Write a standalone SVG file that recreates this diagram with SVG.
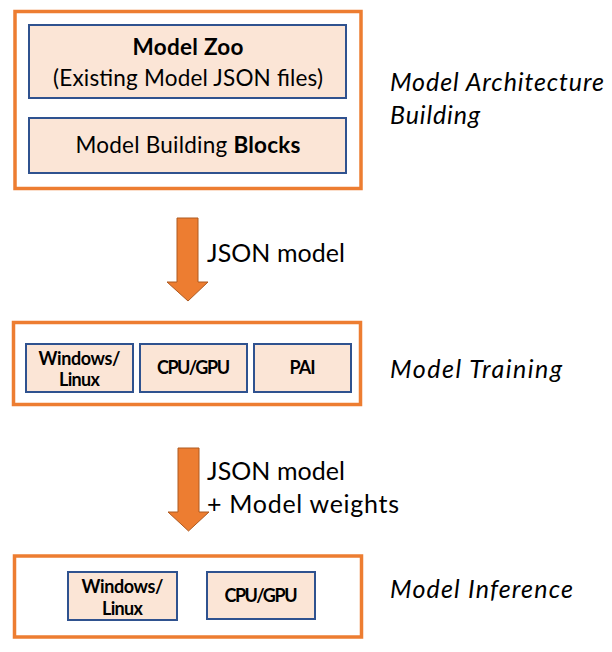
<svg xmlns="http://www.w3.org/2000/svg" width="612" height="652" viewBox="0 0 612 652">
<style>
.outer{fill:#FFFFFF;stroke:#ED7D31;stroke-width:3.5}
.inner{fill:#FBE5D6;stroke:#2F528F;stroke-width:2}
.arrow{fill:#ED7D31;stroke:#AE5A21;stroke-width:1}
text{font-family:Lato,"Open Sans","Liberation Sans",sans-serif;fill:#000}
.t20{font-size:22.5px;text-anchor:middle}
.b15{font-size:18px;font-weight:bold;text-anchor:middle}
.lab{font-size:25px}
.side{font-size:25px;font-style:italic}
</style>
<rect width="612" height="652" fill="#FFFFFF"/>
<g id="stage-build">
<rect class="outer" x="15" y="11.5" width="346" height="177"/>
<g id="model-zoo">
<rect class="inner" x="29" y="25" width="317" height="73"/>
<text class="t20" x="188" y="55" font-weight="bold" textLength="111">Model Zoo</text>
<text class="t20" x="188" y="86" textLength="270">(Existing Model JSON files)</text>
</g>
<g id="building-blocks">
<rect class="inner" x="29" y="118" width="317" height="55"/>
<text class="t20" x="188" y="153" textLength="225">Model Building <tspan font-weight="bold">Blocks</tspan></text>
</g>
</g>
<g id="stage-train">
<rect class="outer" x="13.5" y="322.5" width="347" height="82"/>
<g id="train-os">
<rect class="inner" x="26" y="344" width="107" height="48"/>
<text class="b15" x="79.5" y="365" textLength="82">Windows/</text>
<text class="b15" x="79.5" y="386" textLength="41">Linux</text>
</g>
<g id="train-hw">
<rect class="inner" x="140" y="344" width="107" height="48"/>
<text class="b15" x="193.5" y="374" textLength="73">CPU/GPU</text>
</g>
<g id="train-pai">
<rect class="inner" x="254" y="344" width="97" height="48"/>
<text class="b15" x="302.5" y="374" textLength="26">PAI</text>
</g>
</g>
<g id="stage-infer">
<rect class="outer" x="14.5" y="556" width="347" height="81"/>
<g id="infer-os">
<rect class="inner" x="68" y="572" width="109" height="48"/>
<text class="b15" x="122.5" y="593" textLength="82">Windows/</text>
<text class="b15" x="122.5" y="615" textLength="41">Linux</text>
</g>
<g id="infer-hw">
<rect class="inner" x="207" y="572" width="108" height="47"/>
<text class="b15" x="261" y="602" textLength="73">CPU/GPU</text>
</g>
</g>
<g id="connectors">
<path class="arrow" d="M177,218 H198 V282 H208 L188,301 L167,282 H177 Z"/>
<path class="arrow" d="M178,448 H199 V512 H209 L188.5,531 L168,512 H178 Z"/>
</g>
<g id="labels">
<text class="lab" x="207" y="262" textLength="138">JSON model</text>
<text class="lab" x="207" y="480" textLength="138">JSON model</text>
<text class="lab" x="207" y="513" textLength="192">+ Model weights</text>
<text class="side" x="390" y="91" textLength="214">Model Architecture</text>
<text class="side" x="390" y="124" textLength="90">Building</text>
<text class="side" x="390" y="378" textLength="172">Model Training</text>
<text class="side" x="390" y="598" textLength="183">Model Inference</text>
</g>
</svg>
